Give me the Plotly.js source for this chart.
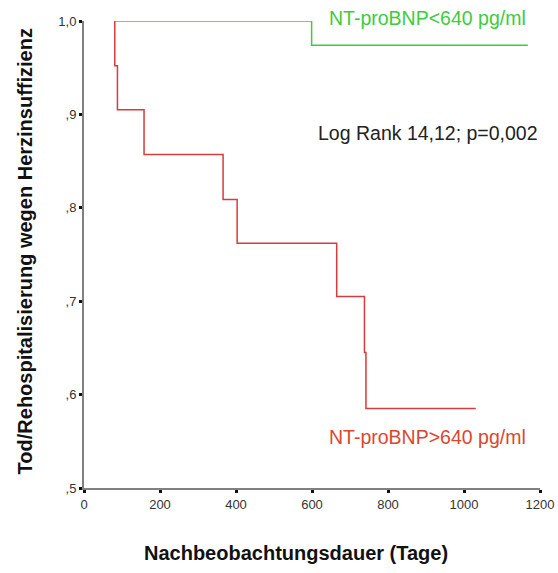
<!DOCTYPE html>
<html>
<head>
<meta charset="utf-8">
<script src="https://cdn.plot.ly/plotly-3.0.1.min.js"></script>
<style>html,body{margin:0;padding:0;background:#fff;}#chart{width:558px;height:573px;}</style>
</head>
<body>
<div id="chart"></div>
<script>
// Kaplan-Meier steps
const highDays = [81, 81, 88, 158, 366, 403, 665, 738, 742, 1031];
const highSurv = [1.0, 0.952, 0.905, 0.857, 0.809, 0.762, 0.705, 0.645, 0.585, 0.585];
const lowDays = [81, 599, 1168];
const lowSurv = [1.0, 0.974, 0.974];
const yTickVals = [0.5, 0.6, 0.7, 0.8, 0.9, 1.0];
const yTickText = [",5", ",6", ",7", ",8", ",9", "1,0"];
const xTickVals = [0, 200, 400, 600, 800, 1000, 1200];
const xTickText = ["0", "200", "400", "600", "800", "1000", "1200"];

const font = "Liberation Sans, Arial, sans-serif";
const traces = [
  {x: highDays, y: highSurv, mode: "lines", line: {shape: "hv", color: "#d63c3c", width: 1.5}, cliponaxis: false, showlegend: false, hoverinfo: "skip"},
  {x: lowDays, y: lowSurv, mode: "lines", line: {shape: "hv", color: "#3dcc3d", width: 1.5}, cliponaxis: false, showlegend: false, hoverinfo: "skip"}
];
const layout = {
  width: 558, height: 573,
  margin: {l: 84, r: 18, t: 21, b: 85},
  paper_bgcolor: "#fff", plot_bgcolor: "#fff",
  font: {family: font, color: "#333"},
  xaxis: {
    range: [0, 1200], tickvals: xTickVals, ticktext: xTickText,
    showgrid: false, zeroline: false, showline: true, linecolor: "#808080", linewidth: 2,
    ticks: "outside", ticklen: 3, tickwidth: 3, tickcolor: "#111",
    tickfont: {size: 13, color: "#333", family: font}
  },
  yaxis: {
    range: [0.5, 1.0], tickvals: yTickVals, ticktext: yTickText,
    showgrid: false, zeroline: false, showline: true, linecolor: "#808080", linewidth: 2,
    ticks: "outside", ticklen: 3, tickwidth: 3, tickcolor: "#111",
    tickfont: {size: 13, color: "#333", family: font}
  },
  annotations: [
    {x: 0.9737, y: 1.0064, xref: "paper", yref: "paper", xanchor: "right", yanchor: "middle", showarrow: false, text: "NT-proBNP<640 pg/ml", font: {size: 19.5, color: "#3dcc3d", family: font}},
    {x: 1.0, y: 0.760, xref: "paper", yref: "paper", xanchor: "right", yanchor: "middle", showarrow: false, text: "Log Rank 14,12; p=0,002", font: {size: 19.5, color: "#222", family: font}},
    {x: 0.9737, y: 0.109, xref: "paper", yref: "paper", xanchor: "right", yanchor: "middle", showarrow: false, text: "NT-proBNP>640 pg/ml", font: {size: 19.5, color: "#d9482e", family: font}},
    {x: 0.465, y: -0.139, xref: "paper", yref: "paper", xanchor: "center", yanchor: "middle", showarrow: false, text: "Nachbeobachtungsdauer (Tage)", font: {size: 20, color: "#111", family: font, weight: "bold"}},
    {x: -0.129, y: 0.507, xref: "paper", yref: "paper", xanchor: "center", yanchor: "middle", textangle: -90, showarrow: false, text: "Tod/Rehospitalisierung wegen Herzinsuffizienz", font: {size: 20, color: "#111", family: font, weight: "bold"}}
  ]
};
Plotly.newPlot("chart", traces, layout, {displayModeBar: false, staticPlot: true});
</script>
</body>
</html>
